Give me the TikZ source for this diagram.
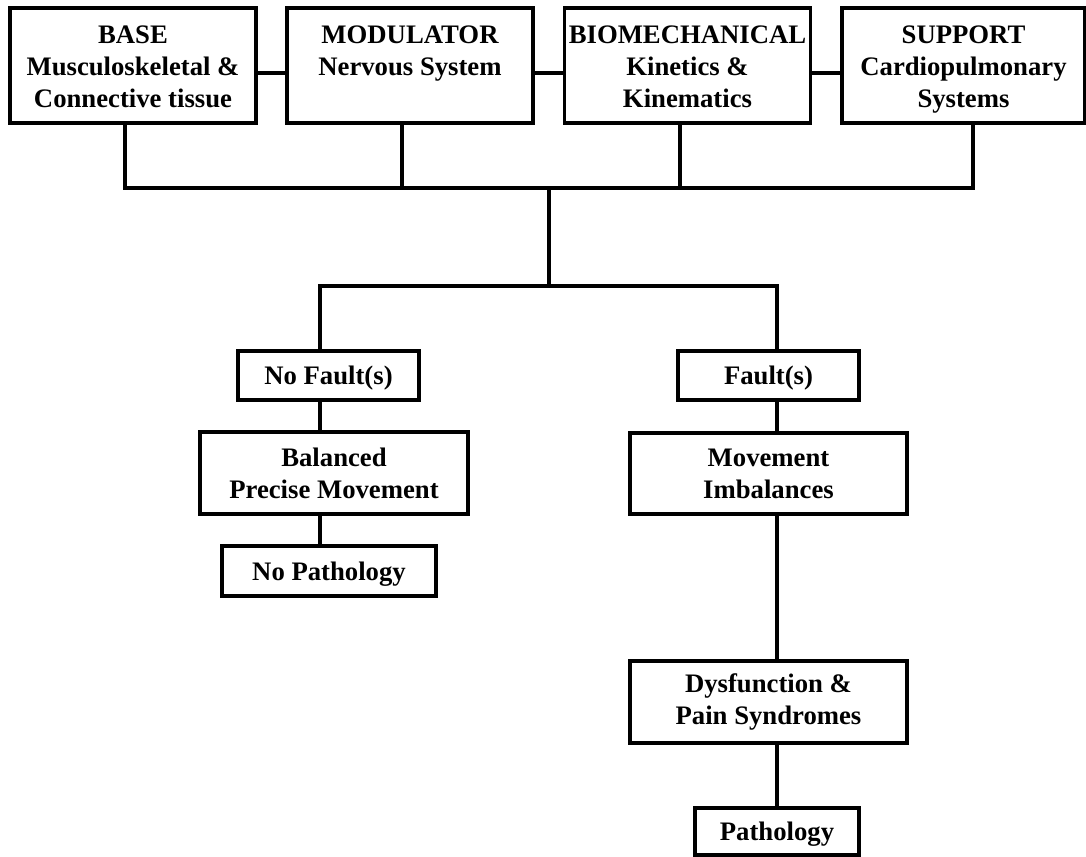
\documentclass[tikz,border=0pt]{standalone}
\usepackage{fontspec}
\setmainfont{Liberation Serif}
\usetikzlibrary{positioning}

\begin{document}
\begin{tikzpicture}[x=0.02cm,y=-0.02cm,
    box/.style={draw,line width=2pt,inner sep=0pt,align=center,
      font=\bfseries\fontsize{15.2}{18.3}\selectfont},
    topbox/.style={box,minimum width=4.92cm,minimum height=2.3cm,
      text height=52.2pt,text depth=4.5pt},
    onebox/.style={box,text depth=0pt},
    link/.style={line width=2pt,line join=miter}]
  \useasboundingbox (0,0) rectangle (1086,857);
  \node[topbox] (base) at (133,65.5) {BASE\\Musculoskeletal \&\\Connective tissue};
  \node[topbox] (modulator) at (410,65.5) {MODULATOR\\Nervous System\\\mbox{}};
  \node[topbox] (biomech) at (687.5,65.5) {BIOMECHANICAL\\Kinetics \&\\Kinematics};
  \node[topbox,minimum width=4.86cm] (support) at (963.5,65.5) {SUPPORT\\Cardiopulmonary\\Systems};
  \node[onebox,minimum width=3.62cm,minimum height=0.98cm] (nofault) at (328.5,375.5) {No Fault(s)};
  \node[onebox,minimum width=3.62cm,minimum height=0.98cm] (fault) at (768.5,375.5) {Fault(s)};
  \node[box,minimum width=5.36cm,minimum height=1.64cm] (balanced) at (334,473) {Balanced\\Precise Movement};
  \node[box,minimum width=5.54cm,minimum height=1.62cm] (movement) at (768.5,473.5) {Movement\\Imbalances};
  \node[onebox,minimum width=4.28cm,minimum height=1cm] (nopath) at (329,571) {No Pathology};
  \node[box,minimum width=5.54cm,minimum height=1.64cm] (dysfunction) at (768.5,702) {Dysfunction \&\\Pain Syndromes};
  \node[onebox,minimum width=3.28cm,minimum height=0.94cm] (path) at (777,831.5) {Pathology};
  \coordinate (bus) at (549,188);
  \coordinate (split) at (549,286);
  \coordinate (lft) at (320,286);
  \coordinate (rgt) at (777,286);
  \foreach \a/\b in {base/modulator,modulator/biomech,biomech/support}
    \draw[link] (\a.east |- 0,73) -- (\b.west |- 0,73);
  \draw[link] (base.south -| 125,0) -- (125,188) -- (973,188) -- (support.south -| 973,0);
  \foreach \n/\x in {modulator/402,biomech/680}
    \draw[link] (\n.south -| \x,0) -- (\x,188);
  \draw[link] (bus) -- (split);
  \draw[link] (nofault.north -| lft) -- (lft) -- (rgt) -- (fault.north -| rgt);
  \draw[link] (nofault.south -| lft) -- (balanced.north -| lft);
  \draw[link] (balanced.south -| lft) -- (nopath.north -| lft);
  \draw[link] (fault.south -| rgt) -- (movement.north -| rgt);
  \draw[link] (movement.south -| rgt) -- (dysfunction.north -| rgt);
  \draw[link] (dysfunction.south -| rgt) -- (path.north -| rgt);
\end{tikzpicture}
\end{document}
